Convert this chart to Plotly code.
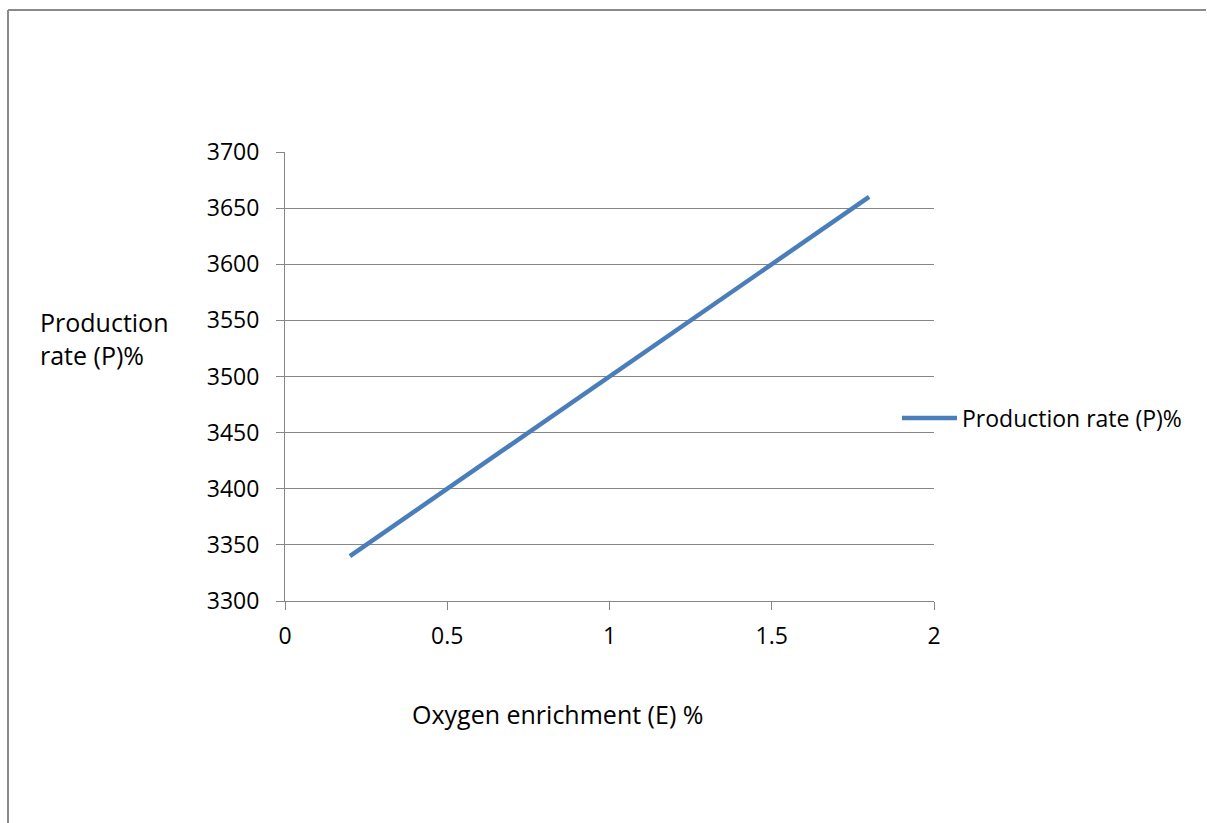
import plotly.graph_objects as go

# Oxygen enrichment (E) % and resulting production rate (P)%
enrichment = [0.2, 0.5, 1.0, 1.5, 1.8]
production = [3340, 3400, 3500, 3600, 3660]

x_ticks = [0, 0.5, 1, 1.5, 2]
x_tick_text = ["0", "0.5", "1", "1.5", "2"]
y_ticks = [3300, 3350, 3400, 3450, 3500, 3550, 3600, 3650, 3700]

series_name = "Production rate (P)%"
x_title = "Oxygen enrichment (E) %"
y_title = "Production<br>rate (P)%"

FONT = "Open Sans"
GRID = "#868686"
LINE = "#4A7EBB"

W, H = 1207, 823
L, R, T, B = 285, 273, 152, 222
PW, PH = W - L - R, H - T - B


def px_x(x):
    """Pixel column -> paper x."""
    return (x - L) / PW


def px_y(y):
    """Pixel row -> paper y."""
    return (H - B - y) / PH


fig = go.Figure()
fig.add_trace(go.Scatter(
    x=enrichment, y=production, mode="lines", name=series_name,
    line=dict(color=LINE, width=4.5),
))

fig.update_layout(
    width=W, height=H,
    margin=dict(l=L, r=R, t=T, b=B, pad=0),
    paper_bgcolor="white", plot_bgcolor="white",
    font=dict(family=FONT, size=23, color="#000000"),
    showlegend=True,
    legend=dict(
        x=px_x(897), xanchor="left",
        y=px_y(418), yanchor="middle",
        bgcolor="rgba(0,0,0,0)", borderwidth=0,
        font=dict(family=FONT, size=23, color="#000000"),
        itemwidth=55, tracegroupgap=0,
    ),
    xaxis=dict(
        range=[0, 2], tickvals=x_ticks, ticktext=x_tick_text,
        showgrid=False, zeroline=False,
        showline=True, linecolor=GRID, linewidth=1,
        ticks="outside", ticklen=8, tickcolor=GRID, tickwidth=1,
        ticklabelstandoff=6,
        tickfont=dict(family=FONT, size=23), fixedrange=True,
    ),
    yaxis=dict(
        range=[3300, 3700], tickvals=y_ticks,
        showgrid=True, gridcolor=GRID, gridwidth=1, zeroline=False,
        showline=True, linecolor=GRID, linewidth=1,
        ticks="outside", ticklen=8, tickcolor=GRID, tickwidth=1,
        ticklabelstandoff=12,
        tickfont=dict(family=FONT, size=23), fixedrange=True,
    ),
    shapes=[
        # outer chart frame: top and left edges
        dict(type="line", xref="paper", yref="paper",
             x0=px_x(8), x1=px_x(1206), y0=px_y(10), y1=px_y(10),
             line=dict(color="#8A8A8A", width=2)),
        dict(type="line", xref="paper", yref="paper",
             x0=px_x(8), x1=px_x(8), y0=px_y(10), y1=px_y(H),
             line=dict(color="#8A8A8A", width=2)),
    ],
    annotations=[
        dict(text=y_title, xref="paper", yref="paper",
             x=px_x(38), xanchor="left",
             y=px_y(338), yanchor="middle",
             showarrow=False, align="left",
             font=dict(family=FONT, size=25, color="#000000")),
        dict(text=x_title, xref="paper", yref="paper",
             x=px_x(557), xanchor="center",
             y=px_y(714), yanchor="middle",
             showarrow=False,
             font=dict(family=FONT, size=25, color="#000000")),
    ],
)

fig.write_html("out.html")
